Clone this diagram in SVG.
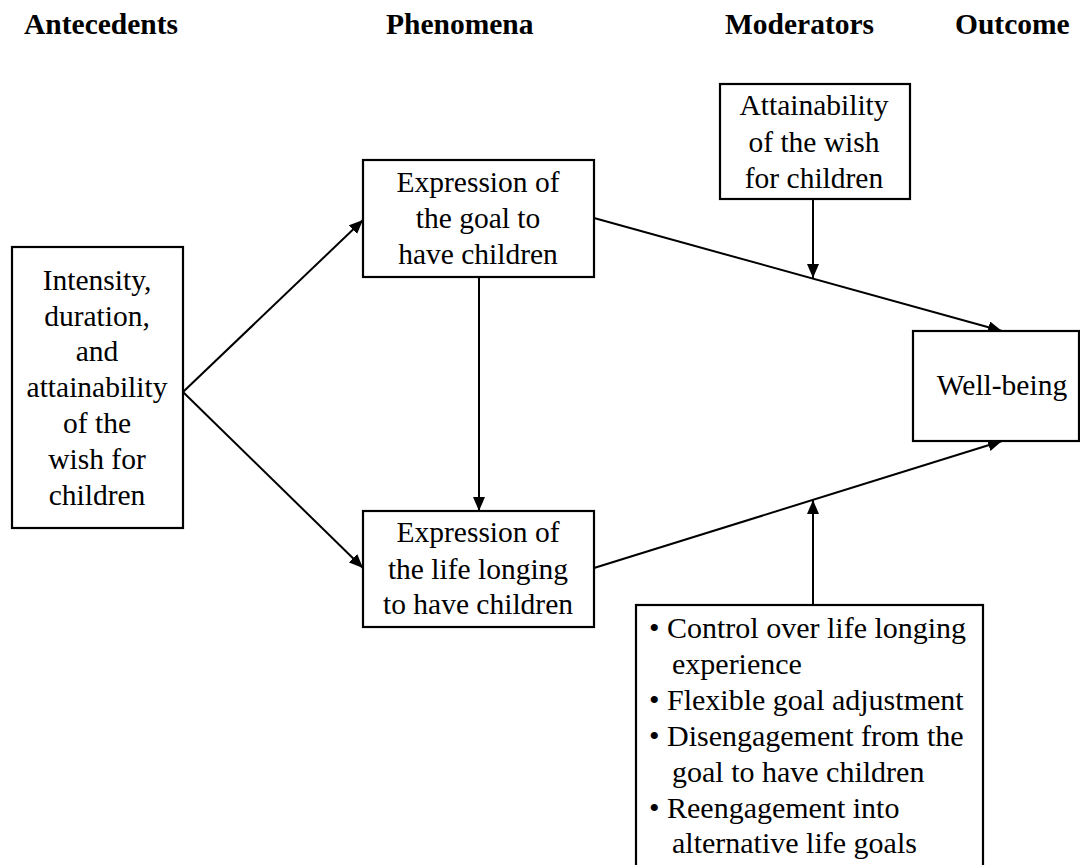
<svg xmlns="http://www.w3.org/2000/svg" width="1080" height="865" viewBox="0 0 1080 865">
<defs>
<style>
.hd{font-family:"Liberation Serif","Times New Roman",serif;font-weight:bold;font-size:29.5px;fill:#000}
.tx{font-family:"Liberation Serif","Times New Roman",serif;font-size:29.5px;fill:#000}
.bl{font-family:"Liberation Serif","Times New Roman",serif;font-size:30px;fill:#000}
.box{fill:#fff;stroke:#000;stroke-width:2.2}
.ln{fill:none;stroke:#000;stroke-width:2}
</style>
<marker id="ah" viewBox="0 0 14 12" refX="14" refY="6" markerWidth="14" markerHeight="12" markerUnits="userSpaceOnUse" orient="auto">
<path d="M0,0 L14,6 L0,12 z" fill="#000"/>
</marker>
</defs>
<rect width="1080" height="865" fill="#fff"/>
<g id="headers">
<text class="hd" x="24" y="34">Antecedents</text>
<text class="hd" x="386" y="34">Phenomena</text>
<text class="hd" x="725" y="34">Moderators</text>
<text class="hd" x="955" y="34">Outcome</text>
</g>
<g id="connectors">
<line class="ln" x1="183" y1="392" x2="363" y2="220" marker-end="url(#ah)"/>
<line class="ln" x1="183" y1="392" x2="363" y2="568" marker-end="url(#ah)"/>
<line class="ln" x1="479" y1="277" x2="479" y2="511" marker-end="url(#ah)"/>
<line class="ln" x1="594" y1="218" x2="1002" y2="331" marker-end="url(#ah)"/>
<line class="ln" x1="594" y1="568" x2="1002" y2="441" marker-end="url(#ah)"/>
<line class="ln" x1="813" y1="199" x2="813" y2="278" marker-end="url(#ah)"/>
<line class="ln" x1="813" y1="605" x2="813" y2="500" marker-end="url(#ah)"/>
</g>
<g id="intensity">
<rect class="box" x="12" y="247" width="171" height="281"/>
<text class="tx" text-anchor="middle"><tspan x="97" y="290">Intensity,</tspan><tspan x="97" y="326">duration,</tspan><tspan x="97" y="361">and</tspan><tspan x="97" y="397">attainability</tspan><tspan x="97" y="433">of the</tspan><tspan x="97" y="469">wish for</tspan><tspan x="97" y="505">children</tspan></text>
</g>
<g id="goal">
<rect class="box" x="363" y="160" width="231" height="117"/>
<text class="tx" text-anchor="middle"><tspan x="478" y="192">Expression of</tspan><tspan x="478" y="228">the goal to</tspan><tspan x="478" y="264">have children</tspan></text>
</g>
<g id="longing">
<rect class="box" x="363" y="511" width="231" height="116"/>
<text class="tx" text-anchor="middle"><tspan x="478" y="542">Expression of</tspan><tspan x="478" y="579">the life longing</tspan><tspan x="478" y="614">to have children</tspan></text>
</g>
<g id="attainability">
<rect class="box" x="720" y="84" width="190" height="115"/>
<text class="tx" text-anchor="middle"><tspan x="814" y="115">Attainability</tspan><tspan x="814" y="152">of the wish</tspan><tspan x="814" y="188">for children</tspan></text>
</g>
<g id="wellbeing">
<rect class="box" x="913" y="331" width="166" height="110"/>
<text class="tx" text-anchor="middle" x="1002" y="395">Well-being</text>
</g>
<g id="moderators">
<rect class="box" x="636" y="605" width="347" height="270"/>
<text class="bl"><tspan x="649" y="638">•</tspan><tspan x="667" y="638">Control over life longing</tspan><tspan x="672" y="674">experience</tspan><tspan x="649" y="710">•</tspan><tspan x="667" y="710">Flexible goal adjustment</tspan><tspan x="649" y="746">•</tspan><tspan x="667" y="746">Disengagement from the</tspan><tspan x="672" y="782">goal to have children</tspan><tspan x="649" y="818">•</tspan><tspan x="667" y="818">Reengagement into</tspan><tspan x="672" y="853">alternative life goals</tspan></text>
</g>
</svg>
